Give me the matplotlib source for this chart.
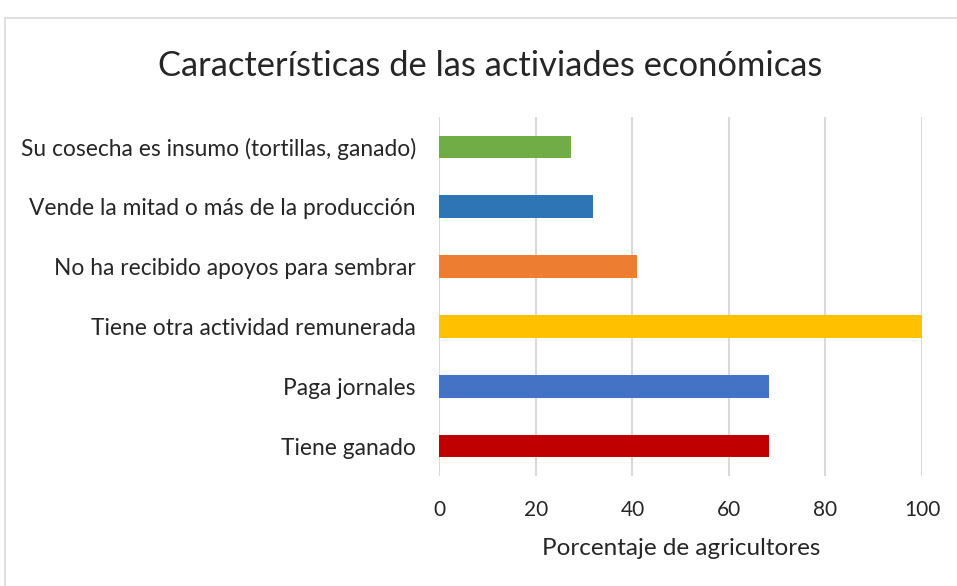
import matplotlib
matplotlib.use("Agg")
import matplotlib.pyplot as plt
from matplotlib.patches import Rectangle

plt.rcParams['font.family'] = ['Lato', 'DejaVu Sans']

# categories from bottom to top
categorias = ['Tiene ganado', 'Paga jornales', 'Tiene otra actividad remunerada',
              'No ha recibido apoyos para sembrar', 'Vende la mitad o más de la producción',
              'Su cosecha es insumo (tortillas, ganado)']
porcentajes = [68.2, 68.2, 100.0, 40.9, 31.8, 27.3]
colores = ['#C00000', '#4472C4', '#FFC000', '#ED7D31', '#2E75B6', '#70AD47']
xticks = [0, 20, 40, 60, 80, 100]

fig = plt.figure(figsize=(9.57, 5.86), dpi=100)
ax = fig.add_axes([0.4592, 0.1877, 0.9634 - 0.4592, 0.8003 - 0.1877])

ax.barh(range(len(categorias)), porcentajes, height=0.38, color=colores, zorder=3)
ax.set_xlim(0, 100)
ax.set_ylim(-0.5, len(categorias) - 0.5)
ax.set_xticks(xticks)
ax.set_yticks(range(len(categorias)))
ax.set_yticklabels(categorias)
ax.grid(axis='x', color='#D9D9D9', linewidth=1.5, zorder=0)
for s in ax.spines.values():
    s.set_visible(False)
ax.tick_params(axis='x', length=0, labelsize=15, labelcolor='#262626', pad=17)
ax.tick_params(axis='y', length=0, labelsize=16.4, labelcolor='#262626', pad=17)
ax.set_xlabel('Porcentaje de agricultores', fontsize=17.5, color='#262626', labelpad=13)

fig.text(0.512, 1 - 66 / 586, 'Características de las activiades económicas',
         ha='center', va='center', fontsize=24.8, color='#262626')

# light chart-area frame
fig.patches.append(Rectangle((5 / 957, -0.1), 1.2, 0.969 + 0.1, transform=fig.transFigure,
                             fill=False, edgecolor='#D9D9D9', linewidth=1.2))

fig.savefig('out.png', dpi=100)
